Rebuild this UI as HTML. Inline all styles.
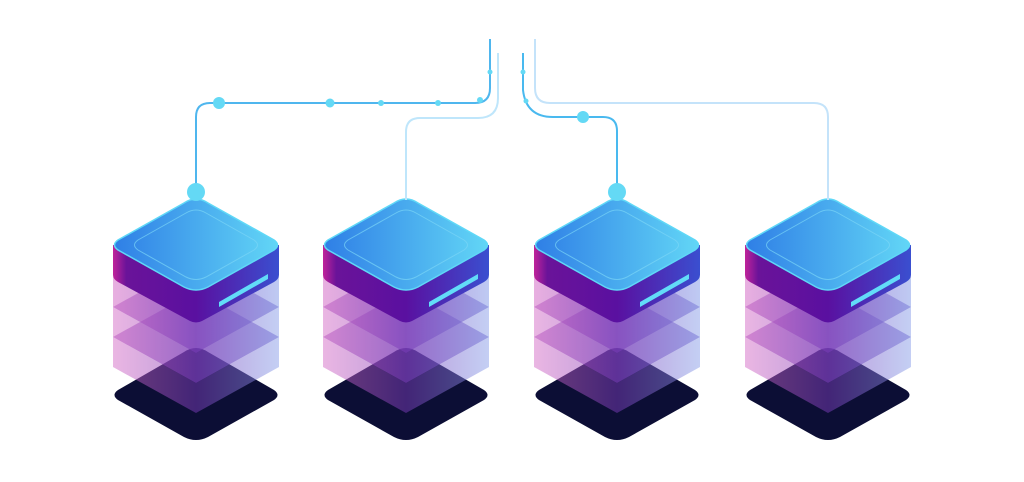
<!DOCTYPE html>
<html><head><meta charset="utf-8"><style>html,body{margin:0;padding:0;background:#fff;width:1024px;height:482px;overflow:hidden}</style></head>
<body>
<svg width="1024" height="482" viewBox="0 0 1024 482" xmlns="http://www.w3.org/2000/svg">
<defs>
<linearGradient id="top" x1="0" y1="0" x2="1" y2="0"><stop offset="0" stop-color="#2f7fe6"/><stop offset="1" stop-color="#62d6f6"/></linearGradient>
<linearGradient id="side" x1="0" y1="0" x2="1" y2="0"><stop offset="0" stop-color="#c0239a"/><stop offset="0.08" stop-color="#6a1399"/><stop offset="0.5" stop-color="#5a10a0"/><stop offset="1" stop-color="#3a4fd0"/></linearGradient>
<linearGradient id="tside" x1="0" y1="0" x2="1" y2="0"><stop offset="0" stop-color="#d76fc8"/><stop offset="0.5" stop-color="#7a3cb8"/><stop offset="1" stop-color="#8aa0ea"/></linearGradient>
<linearGradient id="ttop" x1="0" y1="0" x2="1" y2="0"><stop offset="0" stop-color="#9a3cb8"/><stop offset="1" stop-color="#5a45c0"/></linearGradient>
<g id="srv">
  <path d="M0,348 Q6,348 12,352 L78,390 Q85,395 78,400 L12,437 Q0,443 -12,437 L-78,400 Q-85,395 -78,390 L-12,352 Q-6,348 0,348Z" fill="#0c0e35"/>
  <g opacity="0.5">
    <path d="M-83,337 L-83,367 L0,413 L83,367 L83,337 L0,383Z" fill="url(#tside)"/>
    <path d="M0,291 L83,337 L0,383 L-83,337Z" fill="url(#ttop)"/>
  </g>
  <g opacity="0.5">
    <path d="M-83,307 L-83,337 L0,383 L83,337 L83,307 L0,353Z" fill="url(#tside)"/>
    <path d="M0,261 L83,307 L0,353 L-83,307Z" fill="url(#ttop)"/>
  </g>
  <g opacity="0.55">
    <path d="M-83,277 L-83,307 L0,353 L83,307 L83,277 L0,323Z" fill="url(#tside)"/>
    <path d="M0,231 L83,277 L0,323 L-83,277Z" fill="url(#ttop)"/>
  </g>
  <path d="M-83,245 L-83,275 Q-83,279 -78,282 L-6,321 Q0,324 6,321 L78,282 Q83,279 83,275 L83,245Z" fill="url(#side)"/>
  <path d="M0,199 Q6,199 12,203 L78,240 Q85,245 78,250 L12,287 Q0,293 -12,287 L-78,250 Q-85,245 -78,240 L-12,203 Q-6,199 0,199Z" fill="url(#top)" stroke="#5fd8f7" stroke-width="1.5"/>
  <path d="M0,210 Q5,210 10,213 L58,240 Q65,245 58,250 L10,277 Q0,282 -10,277 L-58,250 Q-65,245 -58,240 L-10,213 Q-5,210 0,210Z" fill="none" stroke="#7ad6f6" stroke-width="1" opacity="0.7"/>
  <path d="M23,302 L72,274 L72,279 L23,307Z" fill="#62dcf8"/>
</g>
</defs>
<use href="#srv" transform="translate(196,0)"/>
<use href="#srv" transform="translate(406,0)"/>
<use href="#srv" transform="translate(617,0)"/>
<use href="#srv" transform="translate(828,0)"/>
<g fill="none" stroke-width="2">
  <path d="M490,39 L490,88 Q490,103 475,103 L210,103 Q196,103 196,117 L196,192" stroke="#4fb6ee"/>
  <path d="M498,53 L498,98 Q498,118 478,118 L420,118 Q406,118 406,132 L406,200" stroke="#bfe6fb"/>
  <path d="M523,53 L523,90 Q526,117 553,117 L603,117 Q617,117 617,131 L617,192" stroke="#49b9ef"/>
  <path d="M535,39 L535,88 Q535,103 550,103 L814,103 Q828,103 828,117 L828,200" stroke="#c4e3fa"/>
</g>
<g fill="#64d9f5">
  <circle cx="196" cy="192" r="9"/><circle cx="617" cy="192" r="9"/>
  <circle cx="219" cy="103" r="6"/><circle cx="330" cy="103" r="4.5"/><circle cx="381" cy="103" r="3"/><circle cx="438" cy="103" r="3"/><circle cx="480" cy="100" r="3"/>
  <circle cx="490" cy="72" r="2.5"/><circle cx="523" cy="72" r="2.5"/><circle cx="526" cy="101" r="2.5"/>
  <circle cx="583" cy="117" r="6"/>
</g>
</svg>
</body></html>
